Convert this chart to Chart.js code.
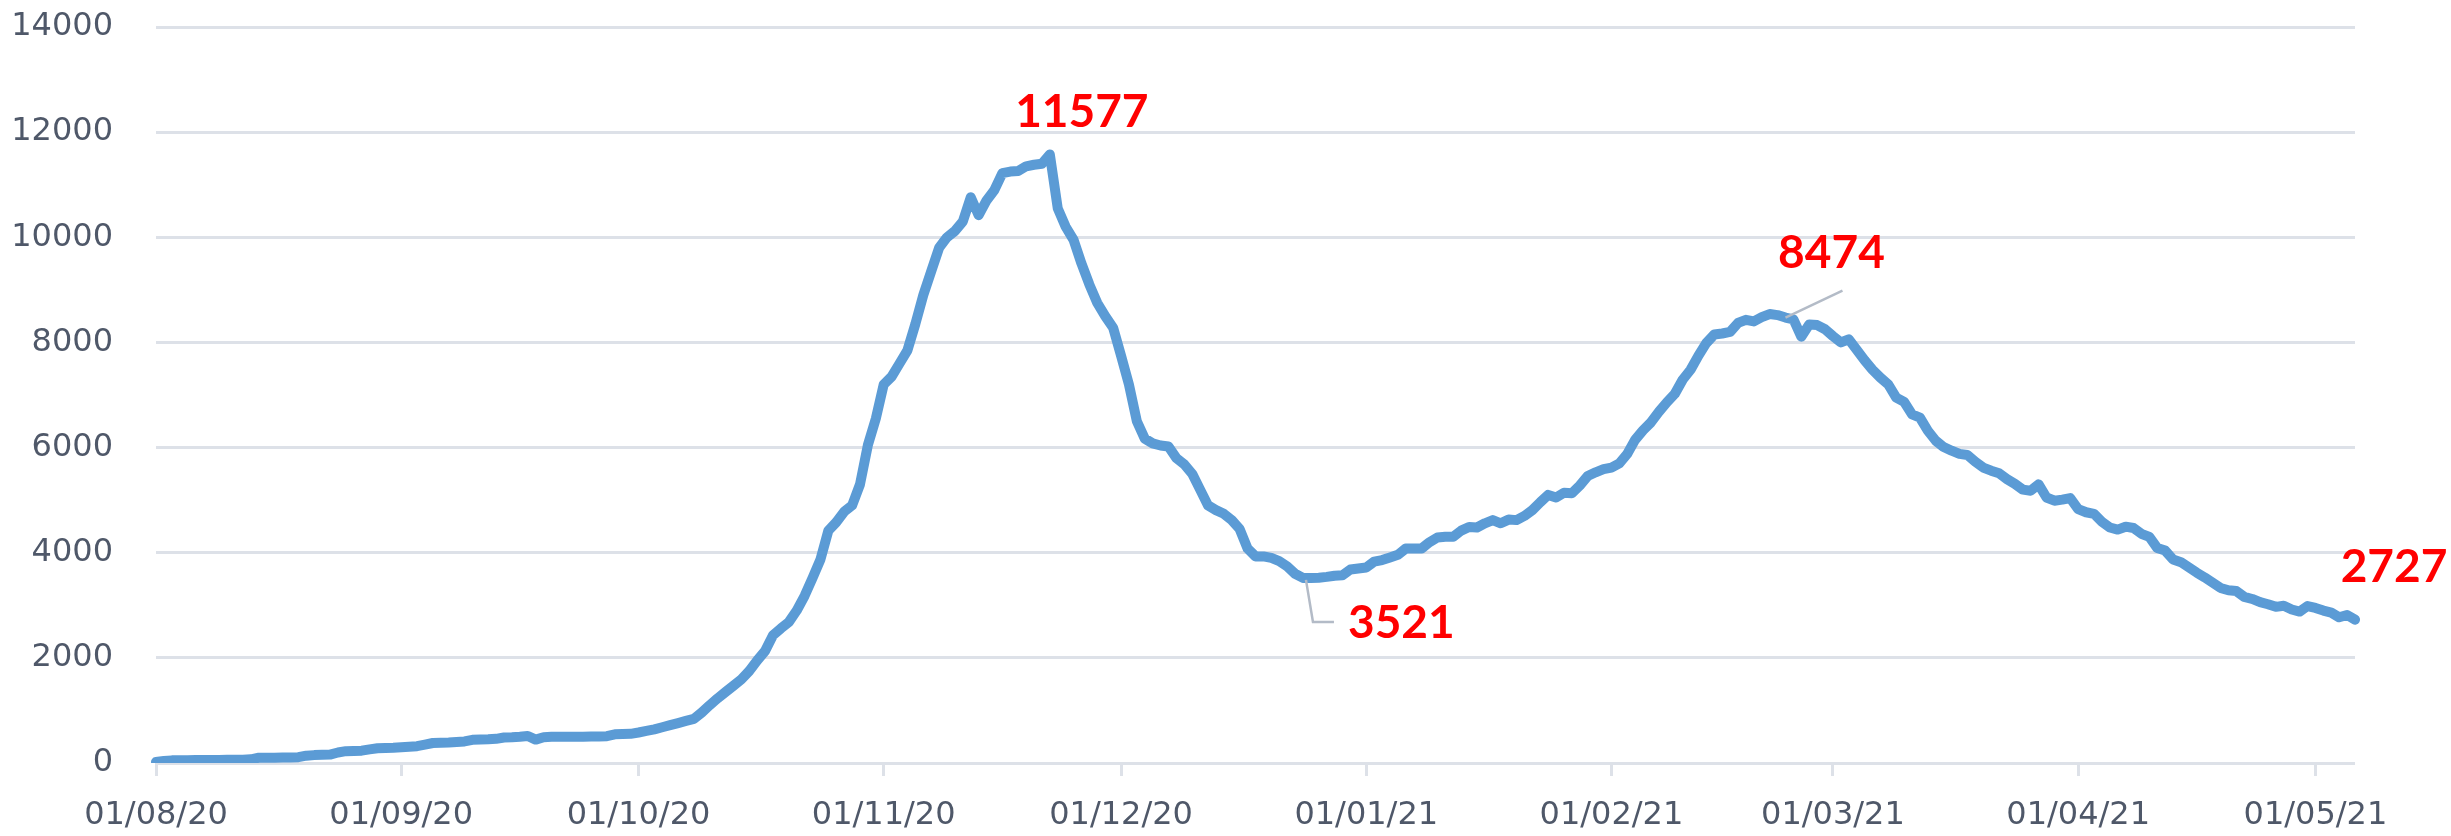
<!DOCTYPE html>
<html>
<head>
<meta charset="utf-8">
<script src="https://cdn.jsdelivr.net/npm/chart.js@4.4.1/dist/chart.umd.min.js"></script>
<style>
  body { margin: 0; background: #ffffff; }
  #wrap { width: 2451px; height: 836px; }
</style>
</head>
<body>
<div id="wrap"><canvas id="casesChart" width="2451" height="836"></canvas></div>
<script>
// month start tick labels (dd/mm/yy)
const tickLabels = ['01/08/20', '01/09/20', '01/10/20', '01/11/20', '01/12/20',
    '01/01/21', '01/02/21', '01/03/21', '01/04/21', '01/05/21'];

// daily values, one array per month
const augValues = [20, 40, 50, 50, 50, 55, 55, 55, 55, 60, 60, 60, 70, 100, 100, 100, 105, 105, 110, 140,
    150, 155, 160, 200, 225, 230, 235, 260, 280, 285, 290];
const sepValues = [300, 310, 320, 350, 380, 385, 390, 400, 410, 440, 445, 450, 460, 485, 490, 500, 515, 445,
    490, 500, 500, 500, 500, 500, 505, 505, 510, 545, 550, 555];
const octValues = [580, 610, 640, 680, 720, 760, 800, 840, 960, 1100, 1230, 1350, 1470, 1590, 1750, 1950,
    2130, 2430, 2560, 2680, 2900, 3180, 3520, 3870, 4420, 4580, 4780, 4900, 5300, 6050, 6550];
const novValues = [7200, 7350, 7600, 7850, 8350, 8900, 9350, 9800, 10000, 10120, 10300, 10760, 10420, 10700,
    10900, 11220, 11250, 11260, 11350, 11380, 11400, 11577, 10550, 10200, 9950, 9500, 9100, 8750, 8500, 8280];
const decValues = [7750, 7200, 6500, 6170, 6080, 6040, 6020, 5800, 5680, 5500, 5200, 4900, 4810, 4740, 4620,
    4450, 4080, 3930, 3930, 3900, 3840, 3740, 3600, 3521, 3521, 3525, 3540, 3563, 3570, 3680, 3700];
const janValues = [3720, 3830, 3860, 3910, 3960, 4080, 4080, 4080, 4200, 4290, 4305, 4305, 4420, 4490, 4480,
    4560, 4620, 4560, 4630, 4620, 4700, 4810, 4960, 5100, 5050, 5140, 5130, 5280, 5460, 5530, 5590];
const febValues = [5620, 5700, 5880, 6150, 6330, 6480, 6680, 6860, 7020, 7290, 7480, 7750, 7990, 8150, 8170,
    8200, 8370, 8430, 8400, 8480, 8540, 8520, 8474, 8440, 8110, 8340, 8330, 8250];
const marValues = [8120, 8000, 8060, 7860, 7660, 7480, 7330, 7200, 6950, 6870, 6630, 6570, 6320, 6130, 6010,
    5940, 5880, 5860, 5730, 5620, 5560, 5510, 5400, 5310, 5200, 5180, 5300, 5050, 4990, 5010, 5040];
const aprValues = [4830, 4770, 4740, 4590, 4480, 4440, 4495, 4470, 4360, 4300, 4090, 4040, 3870, 3820, 3720,
    3620, 3530, 3430, 3330, 3285, 3270, 3160, 3120, 3060, 3020, 2970, 2990, 2920, 2880, 2986];
const mayValues = [2950, 2900, 2860, 2771, 2815, 2727];

// dates that carry a red value label
const labelledDates = ['22/11/20', '24/12/20', '23/02/21', '06/05/21'];

const monthValues = [augValues, sepValues, octValues, novValues, decValues,
    janValues, febValues, marValues, aprValues, mayValues];

// build the daily category labels and the series
const labels = [];
const values = [];
monthValues.forEach((arr, m) => {
    const monthYear = tickLabels[m].slice(3);
    arr.forEach((v, i) => {
        labels.push(String(i + 1).padStart(2, '0') + '/' + monthYear);
        values.push(v);
    });
});

const gridColor = '#dde1e8';
const tickColor = '#4f5869';

// where each red label sits relative to its point (px offsets)
const calloutStyle = {
    '22/11/20': { dx: 32, dy: -42, align: 'center', leader: null },
    '24/12/20': { dx: 45, dy: 45, align: 'left', leader: [[3, 2], [10, 44], [31, 44]] },
    '23/02/21': { dx: 46, dy: -64, align: 'center', leader: [[0, 0], [57, -27]] },
    '06/05/21': { dx: 39, dy: -52, align: 'center', leader: null }
};

const calloutPlugin = {
    id: 'callouts',
    afterDatasetsDraw(chart) {
        const ctx = chart.ctx;
        const meta = chart.getDatasetMeta(0);
        ctx.save();
        labelledDates.forEach(date => {
            const i = labels.indexOf(date);
            const p = meta.data[i];
            const s = calloutStyle[date];
            if (s.leader) {
                ctx.strokeStyle = '#b3bbc7';
                ctx.lineWidth = 2.5;
                ctx.beginPath();
                s.leader.forEach((pt, k) => {
                    if (k === 0) ctx.moveTo(p.x + pt[0], p.y + pt[1]);
                    else ctx.lineTo(p.x + pt[0], p.y + pt[1]);
                });
                ctx.stroke();
            }
            ctx.fillStyle = '#ff0000';
            ctx.font = 'bold 46px Lato';
            ctx.textAlign = s.align;
            ctx.textBaseline = 'middle';
            ctx.fillText(String(values[i]), p.x + s.dx, p.y + s.dy);
        });
        ctx.restore();
    }
};

const isMonthStart = (i) => labels[i] && labels[i].startsWith('01/');

const casesCtx = document.getElementById('casesChart').getContext('2d');
const casesChart = new Chart(casesCtx, {
    type: 'line',
    data: {
        labels: labels,
        datasets: [{
            data: values,
            borderColor: '#5b9bd5',
            borderWidth: 10,
            pointRadius: 0,
            tension: 0,
            borderJoinStyle: 'round',
            borderCapStyle: 'round',
            fill: false
        }]
    },
    options: {
        responsive: false,
        animation: false,
        layout: { padding: { top: 27, right: 96, left: 0, bottom: 0 } },
        plugins: {
            legend: { display: false },
            tooltip: { enabled: false }
        },
        scales: {
            x: {
                type: 'category',
                offset: false,
                afterFit: (scale) => {
                    scale.height = 73;
                    scale.paddingLeft = 0;
                    scale.paddingRight = 0;
                },
                border: { display: false },
                grid: {
                    drawOnChartArea: false,
                    drawTicks: true,
                    tickLength: 13,
                    tickWidth: 3,
                    tickColor: (c) => isMonthStart(c.index) ? gridColor : 'rgba(0,0,0,0)'
                },
                ticks: {
                    autoSkip: false,
                    maxRotation: 0,
                    minRotation: 0,
                    padding: 20,
                    color: tickColor,
                    font: { family: 'DejaVu Sans', size: 32 },
                    callback: function (value, index) {
                        return isMonthStart(index) ? labels[index] : '';
                    }
                }
            },
            y: {
                min: 0,
                max: 14000,
                afterFit: (scale) => {
                    scale.width = 156;
                    scale.paddingTop = 0;
                    scale.paddingBottom = 0;
                },
                border: { display: false },
                grid: {
                    color: gridColor,
                    lineWidth: 3,
                    drawTicks: false
                },
                ticks: {
                    stepSize: 2000,
                    padding: 43,
                    color: tickColor,
                    font: { family: 'DejaVu Sans', size: 32 },
                    callback: (value) => String(value)
                }
            }
        }
    },
    plugins: [calloutPlugin]
});
</script>
</body>
</html>
